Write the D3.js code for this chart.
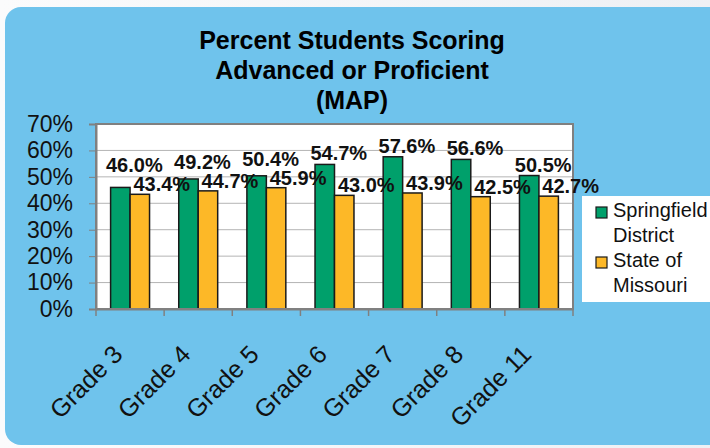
<!DOCTYPE html>
<html><head><meta charset="utf-8">
<script src="https://cdn.jsdelivr.net/npm/d3@7"></script>
<style>
html,body{margin:0;padding:0;background:#fff;}
svg{display:block;font-family:"Liberation Sans",Arial,sans-serif;}
</style></head>
<body>
<svg id="chart" width="710" height="448"></svg>
<script>
const categories = ["Grade 3","Grade 4","Grade 5","Grade 6","Grade 7","Grade 8","Grade 11"];
const springfield = [46.0, 49.2, 50.4, 54.7, 57.6, 56.6, 50.5];
const missouri = [43.4, 44.7, 45.9, 43.0, 43.9, 42.5, 42.7];
const seriesNames = [["Springfield","District"],["State of","Missouri"]];
const yTicks = [0,10,20,30,40,50,60,70];
const titleLines = ["Percent Students Scoring","Advanced or Proficient","(MAP)"];
const colors = ["#00a06b","#fdb827"];

const svg = d3.select("#chart");
const defs = svg.append("defs");
const grad = defs.append("linearGradient").attr("id","bg").attr("x1",0).attr("y1",0).attr("x2",1).attr("y2",0);
grad.append("stop").attr("offset","0%").attr("stop-color","#fbfbfc");
grad.append("stop").attr("offset","100%").attr("stop-color","#eef0f4");
svg.append("rect").attr("width",710).attr("height",448).attr("fill","url(#bg)");

// blue panel
svg.append("rect").attr("x",5).attr("y",7).attr("width",740).attr("height",438)
  .attr("rx",16).attr("ry",16).attr("fill","#6fc3ec");

const m = {left:96, top:124, right:573, bottom:309};
const x = d3.scaleBand().domain(categories).range([m.left,m.right]).paddingInner(0).paddingOuter(0);
const y = d3.scaleLinear().domain([0,70]).range([m.bottom,m.top]);
const bw = x.bandwidth()/3.5;
const xs = d3.scaleBand().domain([0,1]).range([0,2*bw]);

// plot area
svg.append("rect").attr("x",m.left).attr("y",m.top).attr("width",m.right-m.left).attr("height",m.bottom-m.top)
  .attr("fill","#fff");
svg.append("g").selectAll("line").data(yTicks.slice(1,-1)).join("line")
  .attr("x1",m.left).attr("x2",m.right).attr("y1",d=>y(d)).attr("y2",d=>y(d))
  .attr("stroke","#b4b4b4").attr("stroke-width",1);

// bars
const data = categories.map((c,i)=>({c, v:[springfield[i], missouri[i]]}));
const groups = svg.append("g").selectAll("g").data(data).join("g")
  .attr("transform",d=>`translate(${x(d.c)+(x.bandwidth()-2*bw)/2},0)`);
groups.selectAll("rect").data(d=>d.v.map((v,k)=>({v,k}))).join("rect")
  .attr("x",d=>xs(d.k)).attr("width",bw)
  .attr("y",d=>y(d.v)).attr("height",d=>y(0)-y(d.v))
  .attr("fill",d=>colors[d.k]).attr("stroke","#1a1a1a").attr("stroke-width",1.5);

// border
svg.append("rect").attr("x",m.left).attr("y",m.top).attr("width",m.right-m.left).attr("height",m.bottom-m.top)
  .attr("fill","none").attr("stroke","#808080").attr("stroke-width",2);

// y axis
const yAxis = svg.append("g").attr("transform",`translate(${m.left},0)`)
  .call(d3.axisLeft(y).tickValues(yTicks).tickFormat(d=>d+"%").tickSize(7).tickPadding(16));
yAxis.select(".domain").attr("stroke","#808080").attr("stroke-width",2);
yAxis.selectAll(".tick line").attr("stroke","#808080");
yAxis.selectAll("text").attr("font-size",23).attr("fill","#111").attr("font-family","Liberation Sans, Arial, sans-serif");

// x axis
const xAxis = svg.append("g").attr("transform",`translate(0,${m.bottom})`)
  .call(d3.axisBottom(x).tickSize(0).tickFormat(""));
xAxis.select(".domain").attr("stroke","#808080").attr("stroke-width",2);
svg.append("g").selectAll("line").data(d3.range(categories.length+1)).join("line")
  .attr("x1",i=>m.left+i*x.step()).attr("x2",i=>m.left+i*x.step())
  .attr("y1",m.bottom).attr("y2",m.bottom+7).attr("stroke","#808080").attr("stroke-width",1.5);
svg.append("g").selectAll("text").data(categories).join("text")
  .attr("transform",d=>`translate(${x(d)+x.bandwidth()/2-6},${m.bottom+47}) rotate(-45)`)
  .attr("text-anchor","end").attr("font-size",25).attr("fill","#111").text(d=>d);

// data labels
const capH = 15;
data.forEach(d=>{
  const gx = x(d.c)+(x.bandwidth()-2*bw)/2;
  const oBase = y(d.v[1]) - 3;
  const gBase = Math.min(y(d.v[0]) - 4, oBase - capH - 4);
  const lbl = [
    {t:d.v[0].toFixed(1)+"%", cx: gx+xs(0)+bw/2+14, by:gBase},
    {t:d.v[1].toFixed(1)+"%", cx: gx+xs(1)+bw/2+22, by:oBase}
  ];
  svg.append("g").selectAll("text").data(lbl).join("text")
    .attr("x",l=>l.cx).attr("y",l=>l.by).attr("text-anchor","middle")
    .attr("font-size",20).attr("font-weight","bold").attr("fill","#111").text(l=>l.t);
});

// title
svg.append("g").selectAll("text").data(titleLines).join("text")
  .attr("x",352).attr("y",(d,i)=>49+i*30).attr("text-anchor","middle")
  .attr("font-size",25).attr("font-weight","bold").attr("fill","#000").text(d=>d);

// legend
const lg = svg.append("g");
lg.append("rect").attr("x",582).attr("y",196).attr("width",140).attr("height",106).attr("fill","#fff");
seriesNames.forEach((n,k)=>{
  const by = 217 + k*50;
  lg.append("rect").attr("x",596).attr("y",by-10).attr("width",11).attr("height",11)
    .attr("fill",colors[k]).attr("stroke","#1a1a1a").attr("stroke-width",1.2);
  n.forEach((line,j)=>{
    lg.append("text").attr("x",613).attr("y",by+j*25).attr("font-size",20).attr("fill","#111").text(line);
  });
});
</script>
</body></html>
